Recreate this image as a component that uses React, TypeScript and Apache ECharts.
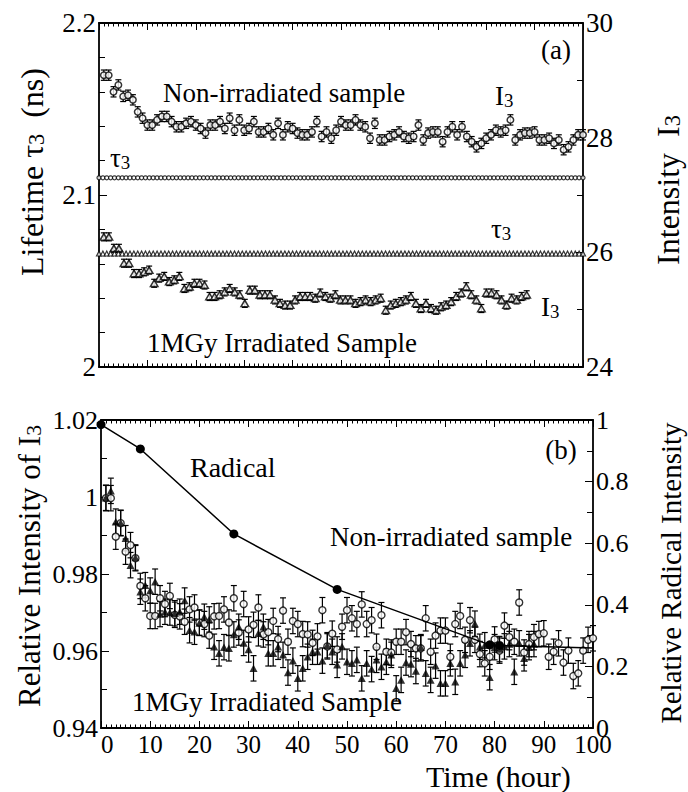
import { useEffect, useRef } from "react";
import * as echarts from "echarts";

const FONT = "'Liberation Serif', 'Times New Roman', serif";

// ---------- Panel (a) ----------
// Intensity I3 (right axis), non-irradiated sample, hourly from 1 h
const NONIRR_I3_START = 1;
const NONIRR_I3_STEP = 1;
const NONIRR_I3 = [
  29.09, 29.09, 28.8, 28.92, 28.72, 28.74, 28.66, 28.45, 28.34, 28.22,
  28.22, 28.31, 28.37, 28.37, 28.28, 28.19, 28.19, 28.25, 28.28, 28.22,
  28.16, 28.08, 28.22, 28.22, 28.28, 28.16, 28.34, 28.13, 28.31, 28.13,
  28.16, 28.28, 28.1, 28.1, 28.16, 28.05, 28.25, 28.05, 28.19, 28.16,
  28.08, 28.05, 28.05, 28.1, 28.28, 28.02, 28.1, 27.99, 28.13, 28.28,
  28.22, 28.22, 28.31, 28.22, 28.19, 27.99, 28.25, 27.96, 27.96, 28.02,
  28.05, 28.1, 28.02, 27.99, 28.02, 28.22, 27.96, 28.08, 28.1, 28.1,
  27.93, 28.1, 28.19, 28.05, 28.19, 28.02, 27.93, 27.84, 27.9, 27.99,
  28.05, 28.13, 28.1, 28.13, 28.31, 27.96, 28.05, 28.08, 28.08, 28.1,
  27.96, 27.96, 27.99, 27.9, 27.96, 27.79, 27.84, 27.96, 28.05, 28.05,
];
const NONIRR_I3_ERR = 0.09;

// Intensity I3 (right axis), 1MGy irradiated sample
const IRR_I3_START = 1;
const IRR_I3_STEP = 1.04;
const IRR_I3 = [
  26.27, 26.27, 26.07, 26.07, 25.81, 25.81, 25.63, 25.63, 25.66, 25.69,
  25.46, 25.55, 25.58, 25.49, 25.52, 25.58, 25.37, 25.4, 25.46, 25.46,
  25.43, 25.23, 25.23, 25.26, 25.31, 25.37, 25.31, 25.26, 25.11, 25.34,
  25.34, 25.26, 25.26, 25.26, 25.17, 25.11, 25.08, 25.08, 25.17, 25.23,
  25.23, 25.23, 25.2, 25.29, 25.23, 25.2, 25.26, 25.17, 25.17, 25.17,
  25.11, 25.14, 25.17, 25.14, 25.17, 25.2, 24.99, 25.08, 25.11, 25.14,
  25.17, 25.23, 25.11, 25.02, 25.11, 25.02, 24.99, 25.05, 25.08, 25.14,
  25.23, 25.29, 25.4, 25.26, 25.17, 25.02, 25.29, 25.29, 25.26, 25.17,
  25.08, 25.2, 25.17, 25.23, 25.26,
];
const IRR_I3_ERR = 0.07;

// Lifetime tau3 (left axis): constant rows
const TAU3_NONIRR = 2.11;
const TAU3_IRR = 2.066;
const TAU3_COUNT = 126;
const TAU3_STEP = 0.8;

// ---------- Panel (b) ----------
// Relative intensity of I3, hourly from 1 h
const REL_START = 1;
const REL_STEP = 1;
const REL_NONIRR = [
  0.9997, 0.9997, 0.9897, 0.9932, 0.9858, 0.9875, 0.9841, 0.9769, 0.9737, 0.9691,
  0.9691, 0.9737, 0.9722, 0.9743, 0.9694, 0.969, 0.9676, 0.9708, 0.9713, 0.9674,
  0.967, 0.964, 0.969, 0.9691, 0.9708, 0.9674, 0.9737, 0.9648, 0.9722, 0.9656,
  0.9668, 0.9713, 0.9643, 0.9649, 0.9678, 0.9631, 0.9705, 0.9624, 0.9678, 0.967,
  0.9644, 0.9643, 0.9621, 0.9638, 0.9706, 0.9612, 0.9645, 0.9604, 0.9663, 0.9706,
  0.9685, 0.967, 0.9721, 0.967, 0.968, 0.9611, 0.9693, 0.9598, 0.9596, 0.9624,
  0.9624, 0.9649, 0.9618, 0.9607, 0.9607, 0.9685, 0.9598, 0.964, 0.9653, 0.9653,
  0.9585, 0.967, 0.9691, 0.9629, 0.968, 0.9629, 0.9592, 0.9568, 0.9585, 0.963,
  0.9601, 0.9666, 0.9636, 0.9624, 0.9726, 0.9596, 0.9618, 0.9636, 0.9644, 0.9646,
  0.9585, 0.9598, 0.962, 0.957, 0.9601, 0.9535, 0.9542, 0.9601, 0.9629, 0.9633,
];
const REL_IRR = [
  0.9998, 1.0016, 0.9936, 0.9933, 0.9893, 0.9823, 0.9843, 0.9754, 0.9771, 0.9757,
  0.978, 0.9696, 0.9702, 0.97, 0.9698, 0.9702, 0.9731, 0.9654, 0.965, 0.9673,
  0.9689, 0.9682, 0.9611, 0.9594, 0.961, 0.9607, 0.9643, 0.9663, 0.9621, 0.9604,
  0.9555, 0.9646, 0.9663, 0.9594, 0.9594, 0.9611, 0.959, 0.9544, 0.9575, 0.9529,
  0.9555, 0.9585, 0.9598, 0.9598, 0.9575, 0.9615, 0.9598, 0.9564, 0.9612, 0.9572,
  0.9568, 0.9577, 0.9529, 0.9568, 0.9553, 0.9577, 0.9559, 0.9572, 0.959, 0.9503,
  0.9525, 0.957, 0.9566, 0.9548, 0.961, 0.9542, 0.9525, 0.9562, 0.9516, 0.9516,
  0.9568, 0.952, 0.9568, 0.959, 0.962, 0.9671, 0.9611, 0.9615, 0.9532, 0.961,
  0.9605, 0.9612, 0.9618, 0.9546, 0.962, 0.9581, 0.961, 0.9618,
];
const REL_ERR = 0.0033;

// Relative radical intensity (right axis)
const RADICAL_TIME = [0, 8, 27, 48, 79, 81, 100];
const RADICAL_VALUE = [0.985, 0.906, 0.63, 0.45, 0.27, 0.268, 0.26];
const RADICAL_MARKED = [true, true, true, true, true, true, false];

// Tick label values
const X_MIN = 0, X_MAX = 100, X_INTERVAL = 10;

// ---------- helpers ----------
const pts = (vals: number[], start: number, step: number) =>
  vals.map((v, i) => [start + i * step, v]);
const bars = (vals: number[], start: number, step: number, err: number) =>
  vals.map((v, i) => [start + i * step, v - err, v + err]);

const errorBars = (data: number[][], xi: number, yi: number, cap: number) => ({
  type: "custom",
  xAxisIndex: xi,
  yAxisIndex: yi,
  data,
  z: 2,
  silent: true,
  encode: { x: 0, y: [1, 2] },
  renderItem: (_p: any, api: any) => {
    const x = api.value(0);
    const hi = api.coord([x, api.value(2)]);
    const lo = api.coord([x, api.value(1)]);
    const s = { stroke: "#000", lineWidth: 1.2 };
    return {
      type: "group",
      children: [
        { type: "line", shape: { x1: hi[0], y1: hi[1], x2: lo[0], y2: lo[1] }, style: s },
        { type: "line", shape: { x1: hi[0] - cap, y1: hi[1], x2: hi[0] + cap, y2: hi[1] }, style: s },
        { type: "line", shape: { x1: lo[0] - cap, y1: lo[1], x2: lo[0] + cap, y2: lo[1] }, style: s },
      ],
    };
  },
});

const AXIS_LINE = { onZero: false, lineStyle: { color: "#000", width: 1.8 } };

const xAxis = (gridIndex: number, position: string, labels: boolean) => ({
  type: "value",
  gridIndex,
  position,
  min: X_MIN,
  max: X_MAX,
  interval: X_INTERVAL,
  axisLine: AXIS_LINE,
  axisTick: { inside: true, length: 7, lineStyle: { color: "#000", width: 1 } },
  minorTick: { show: true, splitNumber: 10, length: 3.5, lineStyle: { color: "#000", width: 1 } },
  splitLine: { show: false },
  axisLabel: labels
    ? { show: true, margin: 4, color: "#000", fontFamily: FONT, fontSize: 25, alignMinLabel: "left" }
    : { show: false },
});

const fmt = (v: number) => String(Number(v.toFixed(2)));

const yAxis = (
  gridIndex: number,
  position: string,
  min: number,
  max: number,
  interval: number,
  minorSplit: number,
  fontSize: number
) => ({
  type: "value",
  gridIndex,
  position,
  min,
  max,
  interval,
  axisLine: AXIS_LINE,
  axisTick: { inside: true, length: 8, lineStyle: { color: "#000", width: 1 } },
  minorTick: { show: true, splitNumber: minorSplit, length: 6, lineStyle: { color: "#000", width: 1 } },
  splitLine: { show: false },
  axisLabel: { margin: 3, color: "#000", fontFamily: FONT, fontSize, formatter: fmt },
});

const rich = (f: number) => ({
  n: { fontSize: f, fontFamily: FONT, fill: "#000", lineHeight: f * 1.1, verticalAlign: "bottom" },
  s: { fontSize: f * 0.7, fontFamily: FONT, fill: "#000", lineHeight: f * 0.55, verticalAlign: "bottom" },
});

const txt = (x: number, y: number, text: string, f: number, align = "left", rotation = 0) => ({
  type: "text",
  x,
  y,
  rotation,
  silent: true,
  style: {
    text,
    fontSize: f,
    fontFamily: FONT,
    fill: "#000",
    align,
    verticalAlign: "middle",
    rich: rich(f),
  },
});

const R = Math.PI / 2;

export default function App() {
  const ref = useRef<HTMLDivElement>(null);
  useEffect(() => {
    document.body.style.margin = "0";
    const chart = echarts.init(ref.current!, null, { renderer: "svg" });
    const tauTimes = Array.from({ length: TAU3_COUNT }, (_, i) => i * TAU3_STEP);
    const option: any = {
      animation: false,
      backgroundColor: "#fff",
      grid: [
        { left: 99, top: 23, width: 484, height: 344 },
        { left: 101, top: 420, width: 492, height: 308 },
      ],
      xAxis: [
        xAxis(0, "bottom", false),
        xAxis(0, "top", false),
        xAxis(1, "bottom", true),
        xAxis(1, "top", false),
      ],
      yAxis: [
        yAxis(0, "left", 2, 2.2, 0.1, 5, 27),
        yAxis(0, "right", 24, 30, 2, 2, 27),
        yAxis(1, "left", 0.94, 1.02, 0.02, 2, 26),
        yAxis(1, "right", 0, 1, 0.2, 2, 26),
      ],
      series: [
        // panel (a)
        errorBars(bars(NONIRR_I3, NONIRR_I3_START, NONIRR_I3_STEP, NONIRR_I3_ERR), 0, 1, 3),
        {
          type: "scatter", xAxisIndex: 0, yAxisIndex: 1, z: 3,
          data: pts(NONIRR_I3, NONIRR_I3_START, NONIRR_I3_STEP),
          symbol: "circle", symbolSize: 6.5,
          itemStyle: { color: "#fff", borderColor: "#000", borderWidth: 1.5 },
        },
        errorBars(bars(IRR_I3, IRR_I3_START, IRR_I3_STEP, IRR_I3_ERR), 0, 1, 3),
        {
          type: "scatter", xAxisIndex: 0, yAxisIndex: 1, z: 3,
          data: pts(IRR_I3, IRR_I3_START, IRR_I3_STEP),
          symbol: "triangle", symbolSize: [7.5, 6.5],
          itemStyle: { color: "#fff", borderColor: "#000", borderWidth: 1.5 },
        },
        {
          type: "scatter", xAxisIndex: 0, yAxisIndex: 0, z: 3,
          data: tauTimes.map((t) => [t, TAU3_NONIRR]),
          symbol: "circle", symbolSize: 4,
          itemStyle: { color: "#fff", borderColor: "#000", borderWidth: 1.2 },
        },
        {
          type: "scatter", xAxisIndex: 0, yAxisIndex: 0, z: 3,
          data: tauTimes.map((t) => [t, TAU3_IRR]),
          symbol: "triangle", symbolSize: [5, 5],
          itemStyle: { color: "#fff", borderColor: "#000", borderWidth: 1.2 },
        },
        // panel (b)
        errorBars(bars(REL_NONIRR, REL_START, REL_STEP, REL_ERR), 2, 2, 3),
        errorBars(bars(REL_IRR, REL_START, REL_STEP, REL_ERR), 2, 2, 3),
        {
          type: "scatter", xAxisIndex: 2, yAxisIndex: 2, z: 3,
          data: pts(REL_NONIRR, REL_START, REL_STEP),
          symbol: "circle", symbolSize: 7,
          itemStyle: { color: "#fff", borderColor: "#000", borderWidth: 1.4 },
        },
        {
          type: "scatter", xAxisIndex: 2, yAxisIndex: 2, z: 4,
          data: pts(REL_IRR, REL_START, REL_STEP),
          symbol: "triangle", symbolSize: [8, 7.5],
          itemStyle: { color: "#000" },
        },
        {
          type: "line", xAxisIndex: 2, yAxisIndex: 3, z: 5,
          data: RADICAL_TIME.map((t, i) => ({
            value: [t, RADICAL_VALUE[i]],
            symbolSize: RADICAL_MARKED[i] ? 9 : 0,
          })),
          symbol: "circle",
          showSymbol: true,
          lineStyle: { color: "#000", width: 1.5 },
          itemStyle: { color: "#000" },
        },
      ],
      graphic: [
        // panel (a)
        txt(556, 50, "(a)", 27, "center"),
        txt(163, 93, "Non-irradiated sample", 27),
        txt(495, 95, "{n|I}{s|3}", 27),
        txt(110, 157, "{n|τ}{s|3}", 27),
        txt(491, 228, "{n|τ}{s|3}", 27),
        txt(541, 306, "{n|I}{s|3}", 27),
        txt(147, 343, "1MGy Irradiated Sample", 27),
        txt(30, 172, "{n|Lifetime τ}{s|3}{n|  (ns)}", 32, "center", R),
        txt(666, 190, "{n|Intensity  I}{s|3}", 32, "center", R),
        // panel (b)
        txt(561, 450, "(b)", 27, "center"),
        txt(190, 467, "Radical", 28),
        txt(330, 537, "Non-irradiated sample", 27),
        txt(132, 702, "1MGy Irradiated Sample", 27),
        txt(426, 776, "Time (hour)", 30),
        txt(28, 566, "{n|Relative Intensity of I}{s|3}", 31, "center", R),
        txt(671, 573, "Relative Radical Intensity", 29, "center", R),
      ],
    };
    chart.setOption(option);
    return () => chart.dispose();
  }, []);
  return (
    <div
      ref={ref}
      style={{ position: "absolute", left: 0, top: 0, width: 688, height: 792 }}
    />
  );
}
